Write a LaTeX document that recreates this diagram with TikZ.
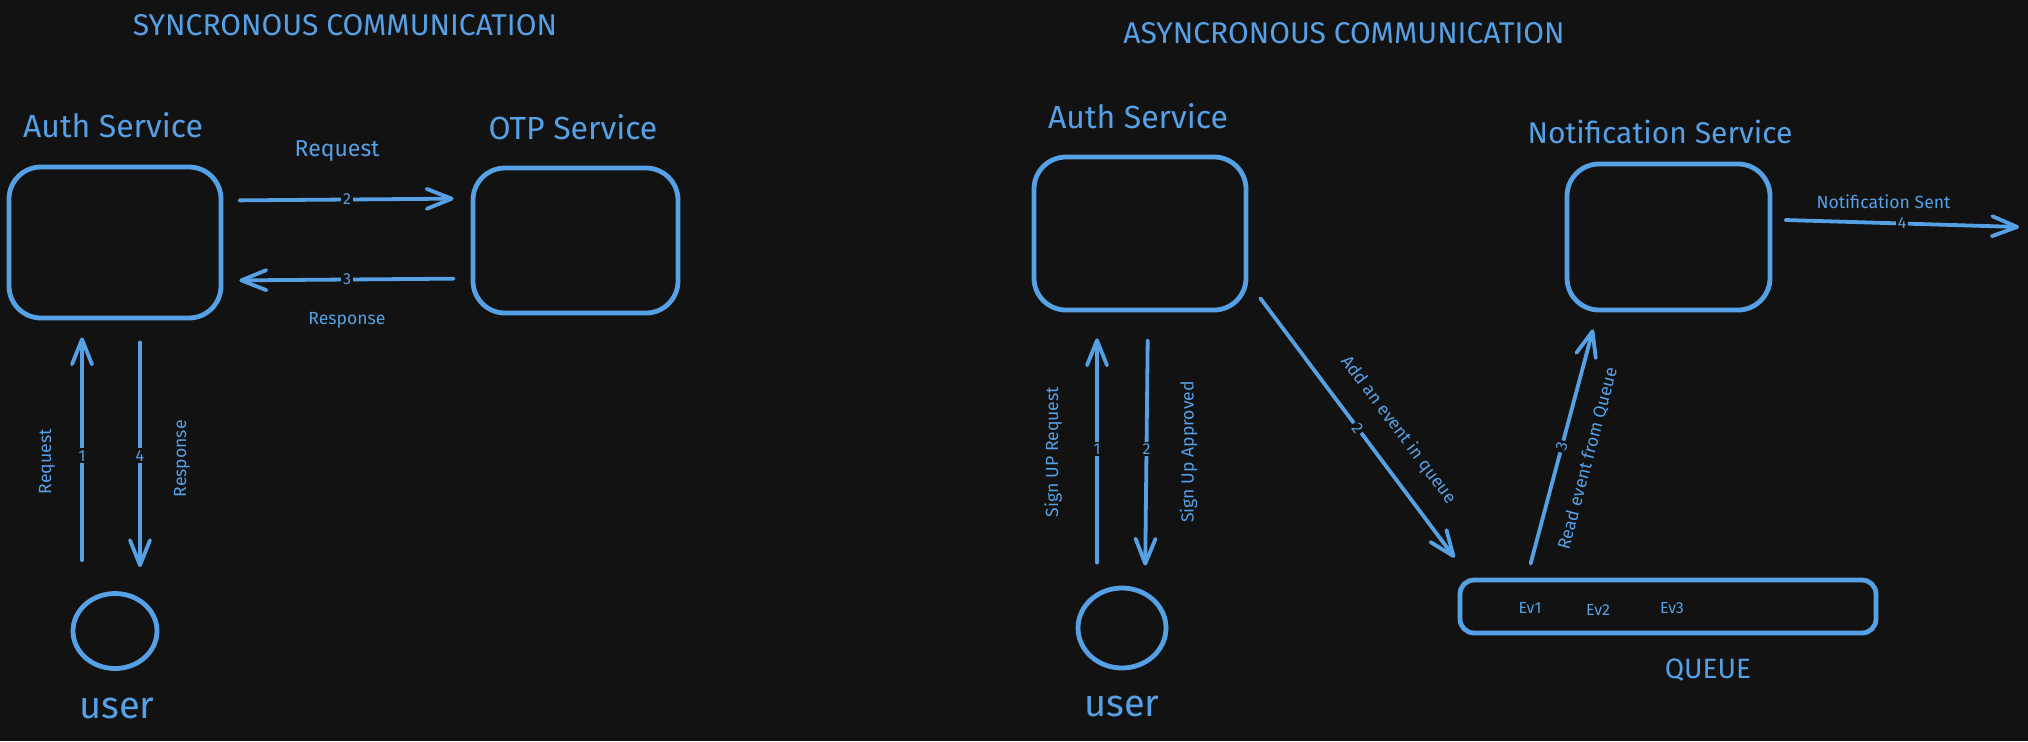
\documentclass[tikz,border=0pt]{standalone}
\usepackage{fontspec}
\setmainfont{Fira Sans}
\usepackage{tikz}
\usetikzlibrary{positioning}
\usetikzlibrary{arrows.meta,shapes}
\usetikzlibrary{calc}
\definecolor{inkblue}{RGB}{86,160,230}
\definecolor{canvas}{RGB}{18,18,18}
\tikzstyle{service} = [draw=inkblue,line width=2.4pt,rounded corners=16pt,inner sep=0pt]
\tikzstyle{queuebox} = [draw=inkblue,line width=2.4pt,rounded corners=7pt,inner sep=0pt]
\tikzstyle{userbubble} = [draw=inkblue,line width=2.4pt,ellipse,inner sep=0pt]
\tikzstyle{flow} = [draw=inkblue,line width=1.9pt,line cap=round,-{Straight Barb[length=12.5pt,width=10pt,round]}]
\tikzstyle{stepno} = [fill=canvas,text=inkblue,inner sep=1pt,font=\fontsize{8}{8}\selectfont]
\tikzstyle{lbl} = [text=inkblue,font=\fontsize{8.8}{9}\selectfont]
\tikzstyle{heading} = [text=inkblue,font=\fontsize{15}{16}\selectfont]
\tikzstyle{svcname} = [text=inkblue,font=\fontsize{16}{18}\selectfont]
\tikzstyle{username} = [text=inkblue,font=\fontsize{19}{20}\selectfont]

\begin{document}
\begin{tikzpicture}[x=0.5pt,y=-0.5pt]

\fill[canvas] (0,0) rectangle (2028,741);

% syncronous side
\node[heading] (synctitle) at (345,25) {SYNCRONOUS COMMUNICATION};

\node[service,minimum width=106pt,minimum height=75.5pt] (auth) at (115,242.5) {};
\node[service,minimum width=102.5pt,minimum height=72.5pt] (otp) at (575.5,240.5) {};
\node[svcname] (authname) at (113,125) {Auth Service};
\node[svcname] (otpname) at (573,127) {OTP Service};

\node[userbubble,minimum width=42pt,minimum height=37.5pt] (usr) at (115,631) {};
\node[username] (usrname) at (117,708) {user};

\draw[flow,shorten <=8pt,shorten >=8.5pt] ([yshift=21pt]auth.east) -- ([yshift=21pt]otp.west)
   node[stepno,midway] {2}
   node[lbl,pos=0.46,above=15pt,font=\fontsize{11.5}{12}\selectfont] {Request};
\draw[flow,shorten <=8.5pt,shorten >=8pt] ([yshift=-19pt]otp.west) -- ([yshift=-19pt]auth.east)
   node[stepno,midway] {3}
   node[lbl,midway,below=12pt] {Response};

\draw[flow,shorten <=15.5pt,shorten >=8.5pt] ([xshift=-16.5pt]usr.north) -- ([xshift=-16.5pt]auth.south)
   node[stepno,midway] {1}
   node[lbl,midway,xshift=-17.5pt,yshift=-3pt,rotate=90] {Request};
\draw[flow,shorten <=11pt,shorten >=12pt] ([xshift=12.5pt]auth.south) -- ([xshift=12.5pt]usr.north)
   node[stepno,midway] {4}
   node[lbl,midway,xshift=21pt,yshift=-1.5pt,rotate=90] {Response};

% asyncronous side
\node[heading] (asynctitle) at (1344,33) {ASYNCRONOUS COMMUNICATION};

\node[service,minimum width=106pt,minimum height=76.5pt] (auth2) at (1140,233.5) {};
\node[service,minimum width=101.5pt,minimum height=73pt] (notify) at (1668.5,237) {};
\node[queuebox,minimum width=208pt,minimum height=26.5pt] (queue) at (1668,606.5) {};
\node[svcname] (auth2name) at (1138,116) {Auth Service};
\node[svcname,font=\fontsize{15}{17}\selectfont] (notifyname) at (1660,132) {Notification Service};
\node[svcname,font=\fontsize{14}{15}\selectfont] (queuename) at (1708,670) {QUEUE};

\node[lbl,font=\fontsize{8}{8}\selectfont] (ev1) at (1530,608) {Ev1};
\node[lbl,font=\fontsize{8}{8}\selectfont] (ev2) at (1598,610) {Ev2};
\node[lbl,font=\fontsize{8}{8}\selectfont] (ev3) at (1672,608) {Ev3};

\node[userbubble,minimum width=44pt,minimum height=40pt] (usr2) at (1122,628) {};
\node[username] (usr2name) at (1122,706) {user};

\draw[flow,shorten <=11.5pt,shorten >=13pt] ([xshift=-12.5pt]usr2.north) -- ([xshift=-21.5pt]auth2.south)
   node[stepno,midway] {1}
   node[lbl,midway,xshift=-22pt,yshift=-1.5pt,rotate=90] {Sign UP Request};
\draw[flow,shorten <=14pt,shorten >=10pt] ([xshift=4pt]auth2.south) -- ([xshift=11.5pt]usr2.north)
   node[stepno,midway] {2}
   node[lbl,midway,xshift=21pt,yshift=-1.5pt,rotate=90] {Sign Up Approved};

\draw[flow] ([xshift=6pt,yshift=7pt]auth2.south east) -- ([xshift=-1.5pt,yshift=10pt]queue.north west)
   node[stepno,sloped,midway] {2}
   node[lbl,sloped,pos=0.58,above=7pt] {Add an event in queue};
\draw[flow] ([xshift=36.5pt,yshift=7pt]queue.north west) -- ([xshift=-37.75pt,yshift=-8.5pt]notify.south)
   node[stepno,sloped,midway] {3}
   node[lbl,sloped,pos=0.48,below=6pt] {Read event from Queue};

\coordinate (sentend) at (2019,227);
\draw[flow] ([xshift=6.5pt,yshift=8.5pt]notify.east) -- (sentend)
   node[stepno,midway] {4}
   node[lbl,pos=0.42,above=3pt] {Notification Sent};

\end{tikzpicture}
\end{document}
